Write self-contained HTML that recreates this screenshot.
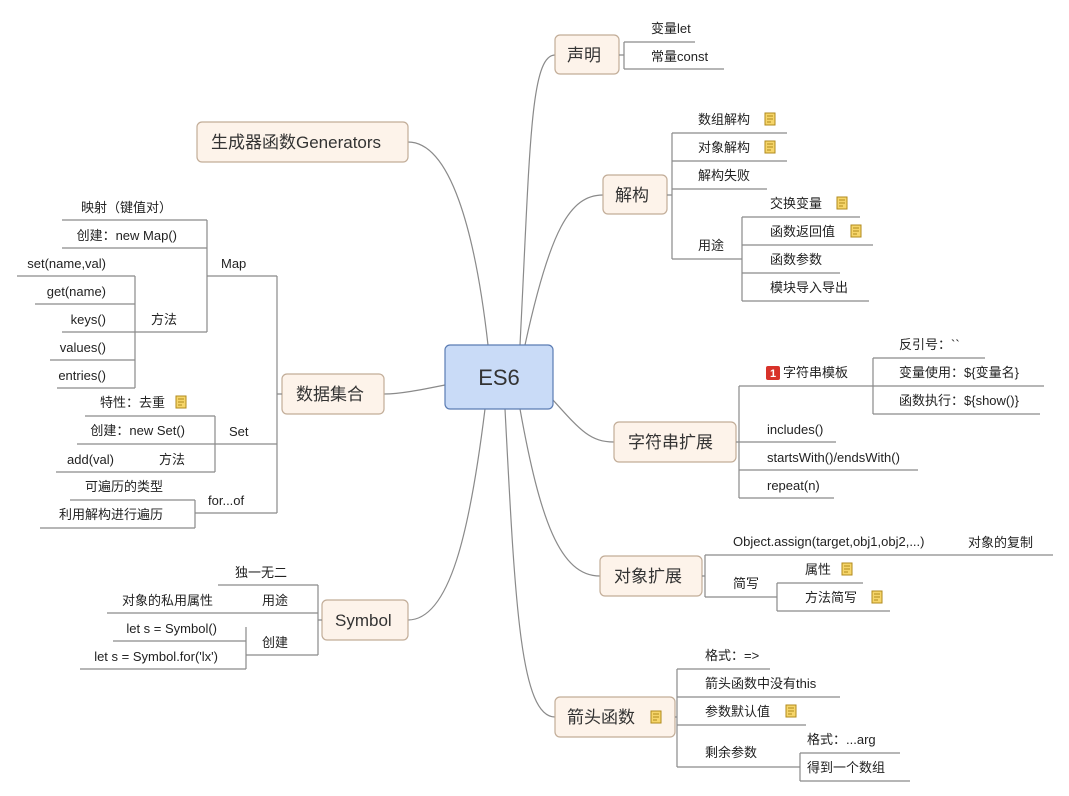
<!DOCTYPE html>
<html><head><meta charset="utf-8"><style>
html,body{margin:0;padding:0;background:#fff;}
svg{display:block;}
text{font-family:"Liberation Sans","Noto Sans CJK SC",sans-serif;font-size:13px;fill:#222;}
.m{font-size:17px;fill:#333;}
.l{stroke:#8a8a8a;stroke-width:1.2;fill:none;}
.b{fill:#fdf3ea;stroke:#c2ad98;stroke-width:1.2;}
.e{text-anchor:end;}
</style></head><body>
<svg width="1069" height="796" viewBox="0 0 1069 796" xmlns="http://www.w3.org/2000/svg">
<defs>
<g id="note"><rect x="0" y="0" width="10" height="12" fill="#f6d56a" stroke="#b08a1c" stroke-width="1"/><line x1="2" y1="3" x2="8" y2="3" stroke="#b08a1c"/><line x1="2" y1="6" x2="8" y2="6" stroke="#b08a1c"/><line x1="2" y1="9" x2="6" y2="9" stroke="#b08a1c"/></g>
</defs>
<!-- main curves -->
<path class="l" d="M520 345 C530 150,530 55,555 55"/>
<path class="l" d="M525 345 C550 230,570 195,603 195"/>
<path class="l" d="M553 400 C580 430,590 442,614 442"/>
<path class="l" d="M520 409 C540 520,560 576,600 576"/>
<path class="l" d="M505 409 C515 600,520 717,555 717"/>
<path class="l" d="M488 345 C475 230,450 142,408 142"/>
<path class="l" d="M445 385 C420 390,400 394,384 394"/>
<path class="l" d="M485 409 C470 530,450 620,408 620"/>

<!-- center -->
<rect x="445" y="345" width="108" height="64" rx="5" fill="#c9dbf7" stroke="#5b7cb3" stroke-width="1.2"/>
<text x="499" y="385" text-anchor="middle" style="font-size:22px;fill:#333">ES6</text>

<!-- 声明 -->
<rect class="b" x="555" y="35" width="64" height="39" rx="5"/>
<text class="m" x="567" y="61">声明</text>
<path class="l" d="M619 55 H624 M624 42 V69 M624 42 H695 M624 69 H724"/>
<text x="651" y="33">变量let</text>
<text x="651" y="61">常量const</text>

<!-- 解构 -->
<rect class="b" x="603" y="175" width="64" height="39" rx="5"/>
<text class="m" x="615" y="201">解构</text>
<path class="l" d="M667 195 H672 M672 133 V259 M672 133 H787 M672 161 H787 M672 189 H767 M672 259 H742"/>
<text x="698" y="124">数组解构</text><use href="#note" x="765" y="113"/>
<text x="698" y="152">对象解构</text><use href="#note" x="765" y="141"/>
<text x="698" y="180">解构失败</text>
<text x="698" y="250">用途</text>
<path class="l" d="M742 217 V301 M742 217 H860 M742 245 H873 M742 273 H840 M742 301 H869"/>
<text x="770" y="208">交换变量</text><use href="#note" x="837" y="197"/>
<text x="770" y="236">函数返回值</text><use href="#note" x="851" y="225"/>
<text x="770" y="264">函数参数</text>
<text x="770" y="292">模块导入导出</text>

<!-- 字符串扩展 -->
<rect class="b" x="614" y="422" width="122" height="40" rx="5"/>
<text class="m" x="628" y="448">字符串扩展</text>
<path class="l" d="M736 442 H739 M739 386 V498 M739 386 H873 M739 442 H836 M739 470 H918 M739 498 H834"/>
<rect x="766" y="366" width="14" height="14" rx="2" fill="#d8322a"/>
<text x="773" y="377" text-anchor="middle" style="fill:#fff;font-size:11px;font-weight:bold">1</text>
<text x="783" y="377">字符串模板</text>
<text x="767" y="434">includes()</text>
<text x="767" y="462">startsWith()/endsWith()</text>
<text x="767" y="490">repeat(n)</text>
<path class="l" d="M873 358 V414 M873 358 H985 M873 386 H1044 M873 414 H1040"/>
<text x="899" y="349">反引号：``</text>
<text x="899" y="377">变量使用：${变量名}</text>
<text x="899" y="405">函数执行：${show()}</text>

<!-- 对象扩展 -->
<rect class="b" x="600" y="556" width="102" height="40" rx="5"/>
<text class="m" x="614" y="582">对象扩展</text>
<path class="l" d="M702 576 H705 M705 555 V597 M705 555 H1053 M705 597 H777"/>
<text x="733" y="546">Object.assign(target,obj1,obj2,...)</text>
<text x="968" y="547">对象的复制</text>
<text x="733" y="588">简写</text>
<path class="l" d="M777 583 V611 M777 583 H863 M777 611 H890"/>
<text x="805" y="574">属性</text><use href="#note" x="842" y="563"/>
<text x="805" y="602">方法简写</text><use href="#note" x="872" y="591"/>

<!-- 箭头函数 -->
<rect class="b" x="555" y="697" width="120" height="40" rx="5"/>
<text class="m" x="567" y="723">箭头函数</text><use href="#note" x="651" y="711"/>
<path class="l" d="M675 717 H677 M677 669 V767 M677 669 H770 M677 697 H840 M677 725 H806 M677 767 H800"/>
<text x="705" y="660">格式：=&gt;</text>
<text x="705" y="688">箭头函数中没有this</text>
<text x="705" y="716">参数默认值</text><use href="#note" x="786" y="705"/>
<text x="705" y="757">剩余参数</text>
<path class="l" d="M800 753 V781 M800 753 H900 M800 781 H910"/>
<text x="807" y="744">格式：...arg</text>
<text x="807" y="772">得到一个数组</text>

<!-- Generators -->
<rect class="b" x="197" y="122" width="211" height="40" rx="5"/>
<text class="m" x="211" y="148">生成器函数Generators</text>

<!-- 数据集合 -->
<rect class="b" x="282" y="374" width="102" height="40" rx="5"/>
<text class="m" x="296" y="400">数据集合</text>
<path class="l" d="M282 394 H277 M277 276 V513 M207 276 H277 M215 444 H277 M195 513 H277"/>
<text x="221" y="268">Map</text>
<text x="229" y="436">Set</text>
<text x="208" y="505">for...of</text>
<path class="l" d="M207 220 V332 M62 220 H207 M62 248 H207 M135 332 H207"/>
<text class="e" x="172" y="212">映射（键值对）</text>
<text class="e" x="177" y="240">创建：new Map()</text>
<text class="e" x="177" y="324">方法</text>
<path class="l" d="M135 276 V388 M17 276 H135 M35 304 H135 M62 332 H135 M50 360 H135 M57 388 H135"/>
<text class="e" x="106" y="268">set(name,val)</text>
<text class="e" x="106" y="296">get(name)</text>
<text class="e" x="106" y="324">keys()</text>
<text class="e" x="106" y="352">values()</text>
<text class="e" x="106" y="380">entries()</text>
<path class="l" d="M215 416 V472 M85 416 H215 M77 444 H215 M56 472 H215"/>
<text class="e" x="165" y="407">特性：去重</text><use href="#note" x="176" y="396"/>
<text class="e" x="185" y="435">创建：new Set()</text>
<text class="e" x="114" y="464">add(val)</text>
<text class="e" x="185" y="464">方法</text>
<path class="l" d="M195 500 V528 M70 500 H195 M40 528 H195"/>
<text class="e" x="163" y="491">可遍历的类型</text>
<text class="e" x="163" y="519">利用解构进行遍历</text>

<!-- Symbol -->
<rect class="b" x="322" y="600" width="86" height="40" rx="5"/>
<text class="m" x="335" y="626">Symbol</text>
<path class="l" d="M322 620 H318 M318 585 V655 M218 585 H318 M107 613 H318 M246 655 H318"/>
<text class="e" x="287" y="577">独一无二</text>
<text class="e" x="213" y="605">对象的私用属性</text>
<text class="e" x="288" y="605">用途</text>
<text class="e" x="288" y="647">创建</text>
<path class="l" d="M246 627 V669 M113 641 H246 M80 669 H246"/>
<text class="e" x="217" y="633">let s = Symbol()</text>
<text class="e" x="218" y="661">let s = Symbol.for('lx')</text>
</svg>
</body></html>
